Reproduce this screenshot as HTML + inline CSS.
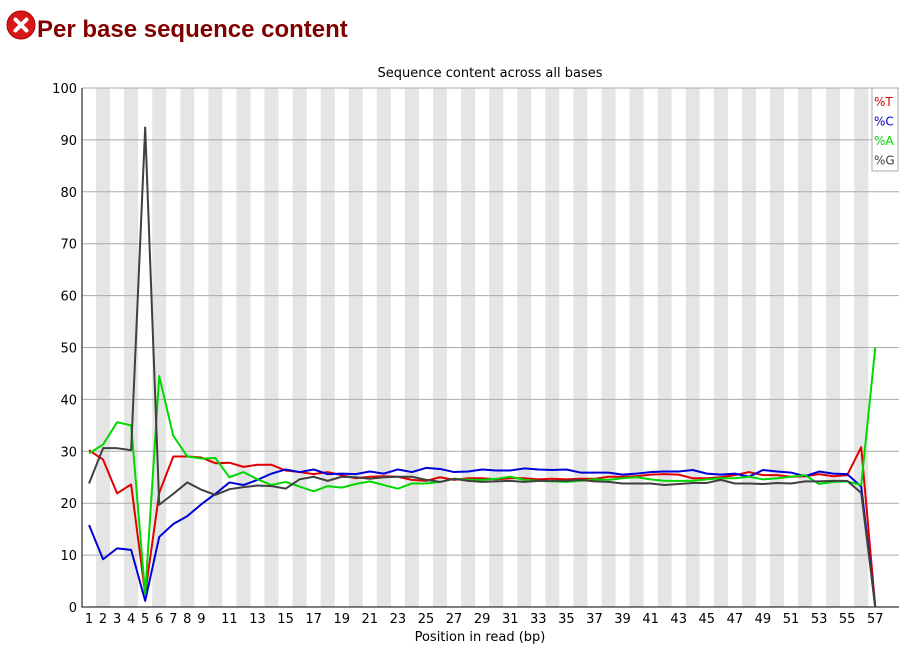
<!DOCTYPE html>
<html><head><meta charset="utf-8"><style>
body{margin:0;background:#fff;width:907px;height:649px;overflow:hidden;font-family:"Liberation Sans","DejaVu Sans",sans-serif}
h1{position:absolute;left:37px;top:16px;margin:0;font-size:24px;font-weight:bold;color:#800000}
</style></head><body>
<svg width="30" height="30" style="position:absolute;left:6px;top:10px" viewBox="0 0 30 30">
<circle cx="15" cy="15" r="14" fill="#d81818" stroke="#a00" stroke-width="1"/>
<path d="M9.5 9.5L20.5 20.5M20.5 9.5L9.5 20.5" stroke="#fff" stroke-width="4" stroke-linecap="round"/></svg>
<h1>Per base sequence content</h1>
<svg id="chart" width="907" height="649" style="position:absolute;left:0;top:0" font-family="DejaVu Sans, Liberation Sans, sans-serif"></svg>
<script>
const positions=[];for(let i=1;i<=57;i++)positions.push(i);
const seriesT=[30.2,28.4,21.9,23.6,2.5,22,29,29,28.8,27.7,27.8,27,27.4,27.4,26.3,26,25.6,26,25.4,24.8,25.1,25.2,25.1,24.5,24.3,25,24.5,24.8,24.8,24.6,24.8,24.8,24.6,24.7,24.6,24.7,24.7,25.1,25.1,25.2,25.5,25.6,25.5,24.8,24.8,25,25.4,26,25.4,25.4,25.1,25.2,25.6,25.2,25.4,30.8,0];
const seriesC=[15.8,9.2,11.3,11,1.2,13.5,16,17.5,19.8,21.8,24,23.5,24.5,25.7,26.5,26,26.5,25.6,25.7,25.6,26.1,25.7,26.5,26,26.8,26.6,26,26.1,26.5,26.3,26.3,26.7,26.5,26.4,26.5,25.9,25.9,25.9,25.5,25.7,26,26.1,26.1,26.4,25.7,25.5,25.7,25.1,26.4,26.1,25.9,25.2,26.1,25.7,25.6,23.2,0];
const seriesA=[29.6,31.3,35.6,35,2.5,44.5,33,29,28.6,28.7,25,26,24.6,23.5,24.1,23.2,22.3,23.3,23,23.7,24.2,23.5,22.8,23.8,23.8,24.1,24.7,24.5,24.5,24.7,25.1,24.5,24.3,24.2,24.1,24.3,24.6,24.5,24.8,25,24.6,24.3,24.3,24.3,24.6,24.8,24.8,25.1,24.6,24.8,25.1,25.4,23.7,24.1,24.2,23.5,50];
const seriesG=[23.8,30.6,30.6,30.2,92.4,19.7,21.8,24,22.6,21.6,22.7,23.1,23.4,23.3,22.8,24.6,25.1,24.3,25.1,25,24.7,25,25.1,25.1,24.5,24.1,24.7,24.3,24.1,24.2,24.3,24.1,24.3,24.3,24.3,24.5,24.2,24.1,23.8,23.8,23.8,23.5,23.7,23.9,23.9,24.5,23.8,23.8,23.7,23.9,23.8,24.2,24.2,24.3,24.3,22,0];
const yTicks=[0,10,20,30,40,50,60,70,80,90,100];
const xTickLabels=[1,2,3,4,5,6,7,8,9,11,13,15,17,19,21,23,25,27,29,31,33,35,37,39,41,43,45,47,49,51,53,55,57];
const seriesNames=["%T","%C","%A","%G"];
const seriesColors=["#e00000","#0000d8","#00d800","#404040"];
const L=82,R=899,T=88,B=607,CW=14.04;
const X=p=>L+CW*(p-0.5), Y=v=>B-(v/100)*(B-T);
const svg=document.getElementById('chart'),NS='http://www.w3.org/2000/svg';
function mk(tag,at,txt){const e=document.createElementNS(NS,tag);for(const k in at)e.setAttribute(k,at[k]);if(txt!=null)e.textContent=txt;svg.appendChild(e);return e;}
positions.forEach(p=>{if(p%2===0){const r=mk('rect',{x:L+CW*(p-1),y:T,width:CW,height:B-T,fill:'#e5e5e5'});

}});
yTicks.forEach(v=>{if(v>0){const g=mk('line',{x1:L,x2:R,y1:Y(v),y2:Y(v),stroke:'#aaa','stroke-width':1});

}
const t=mk('text',{x:77,y:Y(v)+5,'text-anchor':'end','font-size':13,fill:'#000'},v);

});
xTickLabels.forEach(p=>{const t=mk('text',{x:X(p),y:623,'text-anchor':'middle','font-size':13,fill:'#000'},p);

});
const ax=mk('path',{d:`M${L} ${T}V${B}H${R}`,fill:'none',stroke:'#000','stroke-width':1});


[seriesT,seriesC,seriesA,seriesG].forEach((s,i)=>{const pl=mk('polyline',{points:s.map((v,j)=>X(positions[j])+','+Y(v)).join(' '),fill:'none',stroke:seriesColors[i],'stroke-width':2,'stroke-linejoin':'round'});

});
const ct=mk('text',{x:490,y:77,'text-anchor':'middle','font-size':13,fill:'#000'},'Sequence content across all bases');


const xt=mk('text',{x:480,y:641,'text-anchor':'middle','font-size':13,fill:'#000'},'Position in read (bp)');


const lb=mk('rect',{x:872,y:88,width:26,height:83,fill:'#fff',stroke:'#aaa'});


seriesNames.forEach((n,i)=>{const t=mk('text',{x:874,y:106+i*19.5,'font-size':12,fill:seriesColors[i]},n);

});
</script>
</body></html>
